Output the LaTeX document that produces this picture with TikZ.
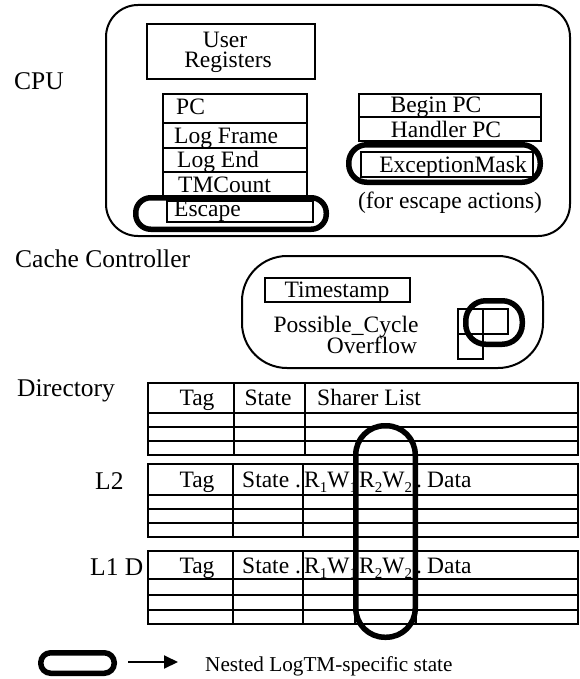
\documentclass[tikz,border=0pt]{standalone}
\usepackage{fontspec}
\setmainfont{Liberation Serif}
\usetikzlibrary{arrows.meta}
\newcommand\subn[1]{\raisebox{-0.22em}{\fontsize{15bp}{15bp}\selectfont #1}}
\begin{document}
\begin{tikzpicture}[x=1bp,y=-1bp,
  lbl/.style={inner sep=0pt, font=\fontsize{23.5bp}{26bp}\selectfont},
  side/.style={inner sep=0pt, font=\fontsize{25.5bp}{28bp}\selectfont},
  leglbl/.style={inner sep=0pt, font=\fontsize{21.2bp}{24bp}\selectfont},
  cell/.style={line width=1.8bp},
  frame/.style={line width=2bp},
  hl/.style={line width=5.5bp},
  arr/.style={line width=2bp, -{Triangle[length=14bp,width=13bp]}}
]
\useasboundingbox (0,0) rectangle (580,679);

% ---------------- CPU ----------------
\node[side, anchor=base west] (cpu) at (14,90) {CPU};
\draw[frame, rounded corners=32bp] (106,5) rectangle (570,236);

\draw[cell] (147,24) rectangle (315,79);
\node[lbl, anchor=base] (user) at (225,48) {User};
\node[lbl, anchor=base] (registers) at (228,68) {Registers};

\draw[cell] (163,94) rectangle (307,123);
\draw[cell] (163,123) rectangle (307,148);
\draw[cell] (163,148) rectangle (307,172);
\draw[cell] (163,172) rectangle (307,197);
\draw[cell] (167,201) rectangle (313,222);
\node[lbl, anchor=base west] (pc) at (176,115) {PC};
\node[lbl, anchor=base west] (logframe) at (174,143) {Log Frame};
\node[lbl, anchor=base west] (logend) at (177,167) {Log End};
\node[lbl, anchor=base west] (tmcount) at (178,192) {TMCount};
\node[lbl, anchor=base west] (escape) at (174,216) {Escape};
\draw[hl, rounded corners=15bp] (135.75,197.75) rectangle (326.25,229.25);

\draw[cell] (359,94) rectangle (541,117);
\draw[cell] (359,117) rectangle (541,141);
\draw[cell] (361,152) rectangle (533,177);
\node[lbl, anchor=base] (beginpc) at (436,113) {Begin PC};
\node[lbl, anchor=base] (handlerpc) at (446,137) {Handler PC};
\node[lbl, anchor=base] (excmask) at (453,172) {ExceptionMask};
\draw[hl, rounded corners=18bp] (348.75,144.75) rectangle (540.25,182.25);
\node[lbl, anchor=base] (forescape) at (450,208) {(for escape actions)};

% ---------------- Cache controller ----------------
\node[side, anchor=base west] (cachectl) at (15,267) {Cache Controller};
\draw[frame, rounded corners=45bp] (242,256) rectangle (543,368);
\draw[cell] (265,278) rectangle (410,302);
\node[lbl, anchor=base] (timestamp) at (337,297) {Timestamp};
\node[lbl, anchor=base] (possible) at (346,332) {Possible\_Cycle};
\node[lbl, anchor=base] (overflow) at (372,353) {Overflow};
\draw[cell] (458,309) rectangle (483,334);
\draw[cell] (483,309) rectangle (508,334);
\draw[cell] (458,334) rectangle (483,359);
\draw[hl, rounded corners=20bp] (465.75,300.75) rectangle (522.25,344.25);

% ---------------- Directory ----------------
\node[side, anchor=base west] (directory) at (17,396) {Directory};
\draw[frame] (148,383) rectangle (578,455);
\foreach \yy in {413,427,441} \draw[cell] (148,\yy) -- (578,\yy);
\foreach \xx in {234,305} \draw[cell] (\xx,383) -- (\xx,455);
\node[lbl, anchor=base] (dtag) at (197,405) {Tag};
\node[lbl, anchor=base] (dstate) at (268,405) {State};
\node[lbl, anchor=base west] (dsharer) at (317,405) {Sharer List};

% ---------------- L2 ----------------
\node[side, anchor=base west] (ltwo) at (95,489) {L2};
\draw[frame] (148,464) rectangle (578,537);
\foreach \yy in {495,509,523} \draw[cell] (148,\yy) -- (578,\yy);
\foreach \xx in {233,303,355,416} \draw[cell] (\xx,464) -- (\xx,537);
\node[lbl, anchor=base] (ltag) at (197,487) {Tag};
\node[lbl, anchor=base west] (lstate) at (242,487) {State .};
\node[lbl, anchor=base west] (lrwone) at (304,487) {R\subn{1}W\subn{1}};
\node[lbl, anchor=base west] (lrwtwo) at (359,487) {R\subn{2}W\subn{2}};
\node[lbl, anchor=base] (ldot) at (419,487) {.};
\node[lbl, anchor=base west] (ldata) at (427,487) {Data};

% ---------------- L1 D ----------------
\node[side, anchor=base west] (lone) at (90,575) {L1 D};
\draw[frame] (148,551) rectangle (578,624);
\foreach \yy in {579,595,610} \draw[cell] (148,\yy) -- (578,\yy);
\foreach \xx in {233,303,355,416} \draw[cell] (\xx,551) -- (\xx,624);
\node[lbl, anchor=base] (mtag) at (197,573) {Tag};
\node[lbl, anchor=base west] (mstate) at (242,573) {State .};
\node[lbl, anchor=base west] (mrwone) at (304,573) {R\subn{1}W\subn{1}};
\node[lbl, anchor=base west] (mrwtwo) at (359,573) {R\subn{2}W\subn{2}};
\node[lbl, anchor=base] (mdot) at (419,573) {.};
\node[lbl, anchor=base west] (mdata) at (427,573) {Data};

% vertical highlight oval
\draw[hl, rounded corners=29bp] (355.75,425.75) rectangle (415.25,637.25);

% ---------------- Legend ----------------
\draw[hl, rounded corners=10bp] (40.75,652.75) rectangle (114.25,673.25);
\coordinate (arrA) at (128,662);
\coordinate (arrB) at (178,662);
\draw[arr] (arrA) -- (arrB);
\node[leglbl, anchor=base west] (legend) at (205,671) {Nested LogTM-specific state};
\end{tikzpicture}
\end{document}
